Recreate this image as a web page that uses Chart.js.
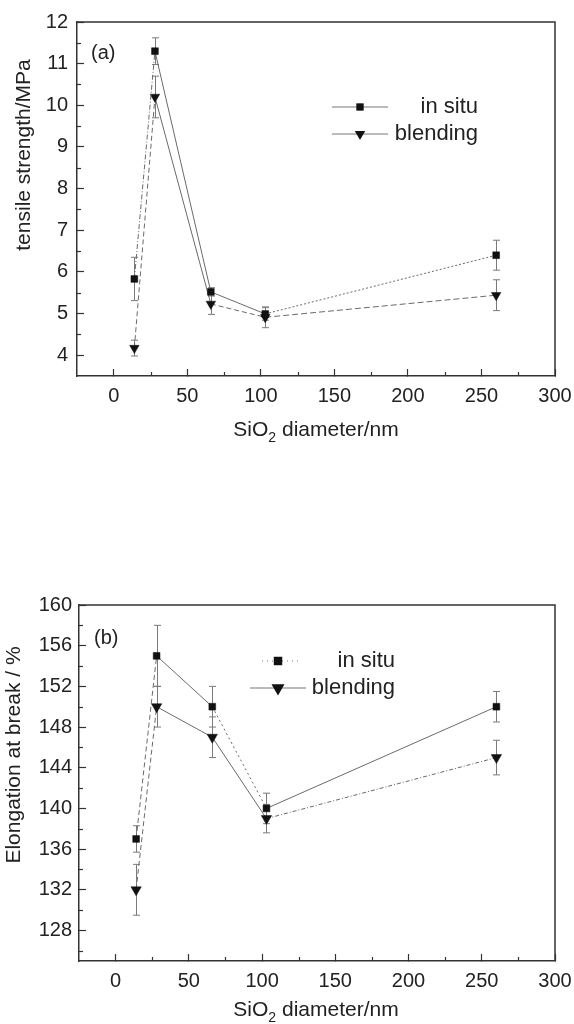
<!DOCTYPE html>
<html><head><meta charset="utf-8">
<script src="https://cdn.jsdelivr.net/npm/chart.js@4.4.1/dist/chart.umd.min.js"></script>
<style>
html,body{margin:0;padding:0;background:#fff;}
.wrap{position:absolute;left:0;width:574px;height:512px;}
</style></head><body>
<div class="wrap" style="top:0"><canvas id="c1" width="574" height="512"></canvas></div>
<div class="wrap" style="top:512px"><canvas id="c2" width="574" height="512"></canvas></div>
<script>
// ---- data ----
const diameters = [14, 28, 66, 103, 260];
const tensileInSitu = [5.83, 11.3, 5.52, 4.99, 6.4];
const tensileInSituErr = [0.52, 0.32, 0.1, 0.15, 0.36];
const tensileBlending = [4.17, 10.2, 5.23, 4.91, 5.44];
const tensileBlendingErr = [0.19, 0.5, 0.25, 0.25, 0.37];
const elongInSitu = [137, 155, 150, 140, 150];
const elongInSituErr = [1.3, 3, 2, 1.5, 1.5];
const elongBlending = [132, 150, 147, 139, 145];
const elongBlendingErr = [2.5, 2, 2, 1.4, 1.7];
const xTicks = [0, 50, 100, 150, 200, 250, 300];
const tensileTicks = [4, 5, 6, 7, 8, 9, 10, 11, 12];
const elongTicks = [128, 132, 136, 140, 144, 148, 152, 156, 160];
const seriesNames = ['in situ', 'blending'];

const FONT = '"Liberation Sans", Arial, sans-serif';
const INK = '#222';
const AXIS = '#333';

function mids(arr, lo, hi){
  const out = [];
  const step = arr[1]-arr[0];
  const all = [arr[0]-step, ...arr, arr[arr.length-1]+step];
  for (let i=0;i<all.length-1;i++){ const m=(all[i]+all[i+1])/2; if (m>lo && m<hi) out.push(m); }
  return out;
}

function pts(vals){ return diameters.map((d,i)=>({x:d, y:vals[i]})); }

function drawMarker(ctx, style, x, y, r){
  ctx.fillStyle = '#111';
  ctx.beginPath();
  if (style === 'rect'){
    const s = r*Math.SQRT1_2;
    ctx.rect(x-s, y-s, 2*s, 2*s);
  } else {
    ctx.moveTo(x, y + r);
    ctx.lineTo(x - r*0.866, y - r*0.5);
    ctx.lineTo(x + r*0.866, y - r*0.5);
    ctx.closePath();
  }
  ctx.fill();
}

const decor = {
  id: 'decor',
  beforeDatasetsDraw(chart, args, o){
    const {ctx, chartArea: a, scales: {x, y}} = chart;
    ctx.save();
    ctx.strokeStyle = AXIS; ctx.lineWidth = 1.5;
    ctx.beginPath(); ctx.moveTo(a.left, a.top); ctx.lineTo(a.right, a.top); ctx.lineTo(a.right, a.bottom); ctx.stroke();
    ctx.lineWidth = 1.2;
    o.minorX.forEach(v => { const p = Math.round(x.getPixelForValue(v))+0.5; ctx.beginPath(); ctx.moveTo(p, a.bottom); ctx.lineTo(p, a.bottom-4); ctx.stroke(); });
    o.minorY.forEach(v => { const p = Math.round(y.getPixelForValue(v))+0.5; ctx.beginPath(); ctx.moveTo(a.left, p); ctx.lineTo(a.left+4, p); ctx.stroke(); });
    // error bars
    chart.data.datasets.forEach(ds => {
      ctx.strokeStyle = '#7a7a7a'; ctx.lineWidth = 1;
      ds.data.forEach((pt, i) => {
        const e = ds.errors[i];
        const px = Math.round(x.getPixelForValue(pt.x)) + 0.5;
        const y1 = y.getPixelForValue(pt.y + e), y2 = y.getPixelForValue(pt.y - e);
        ctx.setLineDash(ds.errDash || []);
        ctx.beginPath(); ctx.moveTo(px, y1); ctx.lineTo(px, y2); ctx.stroke();
        ctx.setLineDash([]);
        ctx.beginPath(); ctx.moveTo(px-3.5, y1); ctx.lineTo(px+3.5, y1); ctx.moveTo(px-3.5, y2); ctx.lineTo(px+3.5, y2); ctx.stroke();
      });
    });
    ctx.restore();
  },
  afterDraw(chart, args, o){
    const ctx = chart.ctx;
    ctx.save();
    ctx.fillStyle = INK;
    // panel label
    ctx.font = '20px ' + FONT; ctx.textAlign = 'left'; ctx.textBaseline = 'middle';
    ctx.fillText(o.panel.text, o.panel.x, o.panel.y);
    // legend
    o.legend.forEach((L, i) => {
      ctx.strokeStyle = '#777'; ctx.lineWidth = 1; ctx.setLineDash(L.dash || []);
      ctx.beginPath(); ctx.moveTo(L.x1, L.y); ctx.lineTo(L.x2, L.y); ctx.stroke();
      ctx.setLineDash([]);
      drawMarker(ctx, L.style, L.mx, L.y, L.r);
      ctx.fillStyle = INK; ctx.font = '22px ' + FONT; ctx.textAlign = 'right'; ctx.textBaseline = 'middle';
      ctx.fillText(seriesNames[i], o.legendRight, L.y);
    });
    // y title
    ctx.save();
    ctx.translate(o.yTitle.x, o.yTitle.y); ctx.rotate(-Math.PI/2);
    ctx.font = '21px ' + FONT; ctx.textAlign = 'center'; ctx.textBaseline = 'middle';
    ctx.fillText(o.yTitle.text, 0, 0);
    ctx.restore();
    // x title with subscript
    const big = '21px ' + FONT, small = '14px ' + FONT;
    const p1 = 'SiO', p2 = '2', p3 = ' diameter/nm';
    ctx.font = big; const w1 = ctx.measureText(p1).width, w3 = ctx.measureText(p3).width;
    ctx.font = small; const w2 = ctx.measureText(p2).width;
    let sx = o.xTitle.x - (w1+w2+w3)/2;
    ctx.textAlign = 'left'; ctx.textBaseline = 'alphabetic';
    ctx.font = big; ctx.fillText(p1, sx, o.xTitle.y); sx += w1;
    ctx.font = small; ctx.fillText(p2, sx, o.xTitle.y + 6); sx += w2;
    ctx.font = big; ctx.fillText(p3, sx, o.xTitle.y);
    ctx.restore();
  }
};

function makeScales(yMin, yMax, yTicks, yWidth, yPad, xHeight){
  return {
    x: {
      type: 'linear', min: -25, max: 300,
      afterBuildTicks: s => { s.ticks = xTicks.map(v => ({value: v})); },
      afterFit: s => { s.height = xHeight; s.paddingLeft = 0; s.paddingRight = 0; },
      grid: {drawOnChartArea: false, drawTicks: true, tickLength: -7, color: AXIS, tickWidth: 1.2},
      border: {display: true, color: AXIS, width: 1.5},
      ticks: {padding: 15, color: INK, font: {family: FONT, size: 20}, maxRotation: 0, autoSkip: false}
    },
    y: {
      type: 'linear', min: yMin, max: yMax,
      afterBuildTicks: s => { s.ticks = yTicks.map(v => ({value: v})); },
      afterFit: s => { s.width = yWidth; s.paddingTop = 0; s.paddingBottom = 0; },
      grid: {drawOnChartArea: false, drawTicks: true, tickLength: -7, color: AXIS, tickWidth: 1.2},
      border: {display: true, color: AXIS, width: 1.5},
      ticks: {padding: yPad, color: INK, font: {family: FONT, size: 20}, autoSkip: false}
    }
  };
}

function dataset(label, vals, errs, style, r, dashes){
  return {
    label, data: pts(vals), errors: errs,
    borderColor: '#6a6a6a', borderWidth: 1,
    pointStyle: style, pointRotation: style === 'triangle' ? 180 : 0,
    pointRadius: r, pointHoverRadius: r,
    pointBackgroundColor: '#111', pointBorderColor: '#111', pointBorderWidth: 0.5,
    fill: false, tension: 0,
    segment: { borderDash: c => dashes[c.p0DataIndex] }
  };
}

Chart.defaults.font.family = FONT;

new Chart(document.getElementById('c1'), {
  type: 'line',
  data: { datasets: [
    dataset('in situ', tensileInSitu, tensileInSituErr, 'rect', 4.8, [[5,2,1,2], [], [], [2,2]]),
    dataset('blending', tensileBlending, tensileBlendingErr, 'triangle', 5.5, [[5,3], [], [5,3], [6,3]])
  ]},
  options: {
    responsive: false, animation: false, events: [],
    layout: {padding: {top: 22, right: 19, left: 0, bottom: 0}},
    scales: makeScales(3.5, 12, tensileTicks, 77, 16, 136),
    plugins: {
      legend: {display: false}, tooltip: {enabled: false},
      decor: {
        minorX: mids(xTicks, -25, 300), minorY: mids(tensileTicks, 3.5, 12),
        panel: {text: '(a)', x: 91, y: 53},
        legend: [
          {x1: 332, x2: 388, mx: 360, y: 107, style: 'rect', r: 5.2},
          {x1: 332, x2: 388, mx: 360, y: 134, style: 'triangle', r: 6}
        ],
        legendRight: 478,
        yTitle: {text: 'tensile strength/MPa', x: 24, y: 155},
        xTitle: {x: 316, y: 436}
      }
    }
  },
  plugins: [decor]
});

new Chart(document.getElementById('c2'), {
  type: 'line',
  data: { datasets: [
    dataset('in situ', elongInSitu, elongInSituErr, 'rect', 4.8, [[5,3], [], [2,3], []]),
    dataset('blending', elongBlending, elongBlendingErr, 'triangle', 6, [[5,3], [], [], [4,2,1,2]])
  ]},
  options: {
    responsive: false, animation: false, events: [],
    layout: {padding: {top: 93, right: 19, left: 0, bottom: 0}},
    scales: makeScales(125, 160, elongTicks, 79, 14, 63),
    plugins: {
      legend: {display: false}, tooltip: {enabled: false},
      decor: {
        minorX: mids(xTicks, -25, 300), minorY: mids(elongTicks, 125, 160),
        panel: {text: '(b)', x: 94, y: 126},
        legend: [
          {x1: 262, x2: 302, mx: 278, y: 149, style: 'rect', r: 6, dash: [1,4]},
          {x1: 250, x2: 306, mx: 278, y: 176, style: 'triangle', r: 7.5}
        ],
        legendRight: 395,
        yTitle: {text: 'Elongation at break / %', x: 14, y: 243},
        xTitle: {x: 316, y: 504}
      }
    }
  },
  plugins: [decor]
});
</script>
</body></html>
